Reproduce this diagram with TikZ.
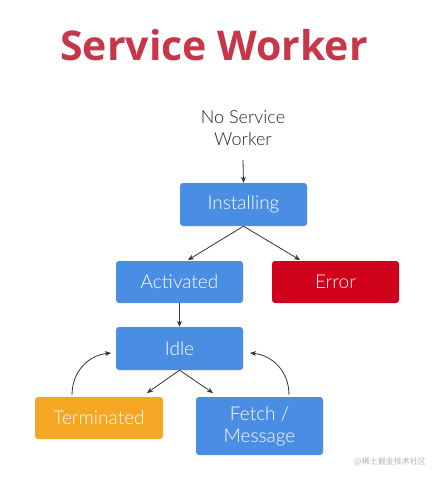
\documentclass[tikz,border=0pt]{standalone}
\usepackage{fontspec}
\setmainfont{Lato Light}
\newfontfamily\titlefont{Open Sans}
\newfontfamily\cjk{Noto Sans CJK SC}
\usetikzlibrary{arrows.meta}
\definecolor{swblue}{HTML}{4A8EE4}
\definecolor{swred}{HTML}{D0021B}
\definecolor{sworange}{HTML}{F5A623}
\definecolor{swtitle}{HTML}{C8364A}
\definecolor{swline}{HTML}{333333}
\tikzset{
  statebox/.style={draw=none, rounded corners=3pt, inner sep=0pt, text=white,
    font=\fontsize{19}{22}\selectfont, align=center},
  conn/.style={draw=swline, line width=0.8pt, -{Stealth[length=6pt,width=5pt]}},
}
\begin{document}
\begin{tikzpicture}[x=1pt,y=-1pt]
\useasboundingbox (0,0) rectangle (445,480);
\fill[white] (0,0) rectangle (445,480);
\node[text=swtitle, font=\titlefont\bfseries\fontsize{41}{48}\selectfont] (title) at (214,45) {Service Worker};
\node[text=black!85, font=\fontsize{18}{22}\selectfont, align=center] (nosw) at (243,128) {No Service\\Worker};
\node[statebox, fill=swblue, minimum width=127pt, minimum height=43pt] (inst) at (243.5,204.5) {Installing};
\node[statebox, fill=swblue, minimum width=127pt, minimum height=42pt] (act) at (179.5,282) {Activated};
\node[statebox, fill=swred, minimum width=127pt, minimum height=42pt] (err) at (335.5,282) {Error};
\node[statebox, fill=swblue, minimum width=127pt, minimum height=43pt] (idle) at (179.5,348.5) {Idle};
\node[statebox, fill=sworange, minimum width=128pt, minimum height=42pt] (term) at (99,418) {Terminated};
\node[statebox, fill=swblue, minimum width=127pt, minimum height=58pt] (fetch) at (259.5,426) {Fetch /\\Message};
\node[text=black!30, font=\cjk\fontsize{8}{10}\selectfont] (wm) at (390,462) {@稀土掘金技术社区};
\coordinate (a0) at (243,160);
\draw[conn] (a0) -- (inst.north);
\coordinate (ia) at (188,260);
\coordinate (ie) at (300,260);
\draw[conn] (inst.south) -- (ia);
\draw[conn] (inst.south) -- (ie);
\draw[conn] (act.south) -- (idle.north);
\coordinate (dt) at (147,393);
\coordinate (df) at (213,393);
\draw[conn] (idle.south) -- (dt);
\draw[conn] (idle.south) -- (df);
\coordinate (ts) at (72,395);
\coordinate (te) at (111,353);
\draw[conn] (ts) .. controls (72,370) and (90,355) .. (te);
\coordinate (fs) at (289,395);
\coordinate (fe) at (250,353);
\draw[conn] (fs) .. controls (289,370) and (271,355) .. (fe);
\end{tikzpicture}
\end{document}
